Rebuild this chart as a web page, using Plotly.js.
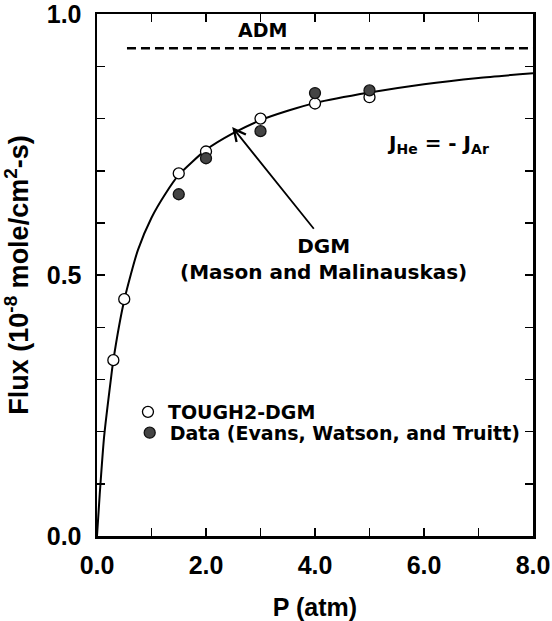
<!DOCTYPE html>
<html>
<head>
<meta charset="utf-8">
<script src="https://cdn.plot.ly/plotly-3.0.1.min.js"></script>
<style>html,body{margin:0;padding:0;background:#fff;}#chart{width:552px;height:621px;}</style>
</head>
<body>
<div id="chart"></div>
<script>
// DGM model curve (Mason and Malinauskas)
const curveP = [0, 0.05, 0.13, 0.26, 0.3, 0.5, 0.75, 1.0, 1.25, 1.5, 2.0, 2.5, 3.0, 3.5, 4.0, 5.0, 6.0, 7.0, 8.0];
const curveFlux = [0, 0.08, 0.19, 0.305, 0.337, 0.452, 0.548, 0.61, 0.655, 0.692, 0.74, 0.772, 0.797, 0.815, 0.83, 0.85, 0.866, 0.878, 0.887];
// TOUGH2-DGM simulation (open circles)
const toughP = [0.3, 0.5, 1.5, 2.0, 3.0, 4.0, 5.0];
const toughFlux = [0.337, 0.454, 0.695, 0.737, 0.800, 0.829, 0.841];
// Data (Evans, Watson, and Truitt) (filled circles)
const dataP = [1.5, 2.0, 3.0, 4.0, 5.0];
const dataFlux = [0.655, 0.724, 0.776, 0.849, 0.854];
// ADM limit (dashed line)
const admP = [0.55, 8.0];
const admFlux = [0.935, 0.935];
// tick labels
const xTickVals = [0, 2, 4, 6, 8];
const xTickText = ['0.0', '2.0', '4.0', '6.0', '8.0'];
const yTickVals = [0, 0.5, 1.0];
const yTickText = ['0.0', '0.5', '1.0'];

const FONT = 'Liberation Sans, Arial, sans-serif';
const WIDE = 'DejaVu Sans, sans-serif';

const traces = [
  {x: curveP, y: curveFlux, mode: 'lines', line: {color: '#000', width: 2, shape: 'spline', smoothing: 0.6}, showlegend: false, hoverinfo: 'skip'},
  {x: admP, y: admFlux, mode: 'lines', line: {color: '#000', width: 2.5, dash: '9px,5px'}, showlegend: false, hoverinfo: 'skip'},
  {x: toughP, y: toughFlux, mode: 'markers', name: 'TOUGH2-DGM', legend: 'legend',
   marker: {symbol: 'circle', size: 11, color: '#fff', line: {color: '#000', width: 1.3}}},
  {x: dataP, y: dataFlux, mode: 'markers', name: 'Data (Evans, Watson, and Truitt)', legend: 'legend2',
   marker: {symbol: 'circle', size: 11, color: '#444', line: {color: '#111', width: 1.3}}}
];

const legendFont = {family: WIDE, size: 19, weight: 'bold', color: '#000'};

const layout = {
  width: 552, height: 621,
  margin: {l: 97, r: 19, t: 14, b: 85},
  paper_bgcolor: '#fff', plot_bgcolor: '#fff',
  font: {family: FONT, color: '#000', size: 20, weight: 'bold'},
  showlegend: true,
  legend: {x: 0.071, y: 0.274, xanchor: 'left', yanchor: 'top', bgcolor: 'rgba(0,0,0,0)', font: legendFont},
  legend2: {x: 0.075, y: 0.234, xanchor: 'left', yanchor: 'top', bgcolor: 'rgba(0,0,0,0)', font: legendFont},
  xaxis: {
    range: [0, 8], showgrid: false, zeroline: false,
    showline: true, linecolor: '#000', linewidth: 2.5, mirror: 'allticks',
    ticks: 'inside', ticklen: 8, tickwidth: 1.5, tickcolor: '#000',
    tickvals: xTickVals, ticktext: xTickText,
    tickfont: {family: FONT, size: 25, weight: 'bold', color: '#000'},
    ticklabelstandoff: 5,
    minor: {dtick: 1, ticks: 'inside', ticklen: 8, tickwidth: 1.5, tickcolor: '#000', showgrid: false},
    title: {text: 'P (atm)', font: {family: FONT, size: 25, weight: 'bold', color: '#000'}, standoff: 23}
  },
  yaxis: {
    range: [0, 1.0005], showgrid: false, zeroline: false,
    showline: true, linecolor: '#000', linewidth: 2.5, mirror: 'allticks',
    ticks: 'inside', ticklen: 8, tickwidth: 1.5, tickcolor: '#000',
    tickvals: yTickVals, ticktext: yTickText,
    tickfont: {family: FONT, size: 25, weight: 'bold', color: '#000'},
    ticklabelstandoff: 8,
    minor: {dtick: 0.1, ticks: 'inside', ticklen: 8, tickwidth: 1.5, tickcolor: '#000', showgrid: false},
    title: {text: 'Flux (10<sup>-8</sup> mole/cm<sup>2</sup>-s)', font: {family: FONT, size: 27, weight: 'bold', color: '#000'}, standoff: 16}
  },
  annotations: [
    {x: 3.03, y: 0.969, xref: 'x', yref: 'y', text: 'ADM', showarrow: false,
     font: {family: WIDE, size: 19, weight: 'bold'}},
    {x: 6.25, y: 0.752, xref: 'x', yref: 'y', text: 'J<sub>He</sub> = - J<sub>Ar</sub>', showarrow: false,
     font: {family: WIDE, size: 20, weight: 'bold'}},
    {x: 4.15, y: 0.53, xref: 'x', yref: 'y', text: 'DGM<br>(Mason and Malinauskas)', showarrow: false,
     font: {family: WIDE, size: 20, weight: 'bold'}},
    {x: 2.48, y: 0.784, xref: 'x', yref: 'y', axref: 'x', ayref: 'y', ax: 4.0, ay: 0.586,
     text: '', showarrow: true, arrowhead: 5, arrowsize: 1.3, arrowwidth: 1.8, arrowcolor: '#000', standoff: 0}
  ]
};

Plotly.newPlot('chart', traces, layout, {displayModeBar: false, staticPlot: true});
</script>
</body>
</html>
